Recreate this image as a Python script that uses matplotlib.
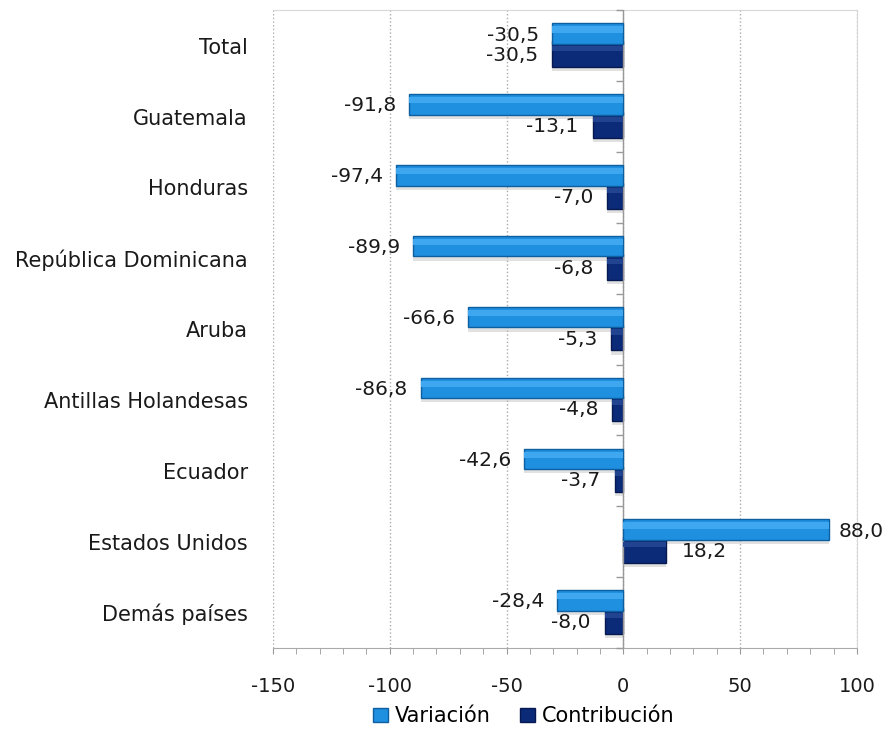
import matplotlib
matplotlib.use("Agg")
import matplotlib.pyplot as plt
import numpy as np
from matplotlib.ticker import MultipleLocator
from matplotlib.patches import Patch

categories = ["Total", "Guatemala", "Honduras", "República Dominicana", "Aruba",
              "Antillas Holandesas", "Ecuador", "Estados Unidos", "Demás países"]
variacion = [-30.5, -91.8, -97.4, -89.9, -66.6, -86.8, -42.6, 88.0, -28.4]
contribucion = [-30.5, -13.1, -7.0, -6.8, -5.3, -4.8, -3.7, 18.2, -8.0]
xticks = [-150, -100, -50, 0, 50, 100]

plt.rcParams['font.family'] = ['DejaVu Sans']

fig = plt.figure(figsize=(8.82, 7.33), dpi=100)
ax = fig.add_axes([0.3095, 0.116, 0.662, 0.870])

n = len(categories)
y = np.arange(n)
hv = 0.29
hc = 0.36
yv = y - 0.17
yc = y + 0.12

c_var = '#1F8FE0'
c_con = '#0B2A78'

# shadows
ax.barh(yv + 0.06, variacion, height=hv, color='#bdbdbd', alpha=0.45, zorder=2, linewidth=0)
ax.barh(yc + 0.06, contribucion, height=hc, color='#bdbdbd', alpha=0.45, zorder=2, linewidth=0)

ax.barh(yc, contribucion, height=hc, color=c_con, edgecolor='#061a50', linewidth=1.0, zorder=3)
ax.barh(yc - hc * 0.22, contribucion, height=hc * 0.2, color='#22438f', linewidth=0, zorder=3.5)
ax.barh(yv, variacion, height=hv, color=c_var, edgecolor='#0d5fa0', linewidth=1.0, zorder=4)
ax.barh(yv - hv * 0.2, variacion, height=hv * 0.3, color='#3fa6f0', linewidth=0, zorder=5)

fs = 14.5
def fmt(v):
    return f"{v:.1f}".replace('.', ',')

for i in range(n):
    v = variacion[i]
    c = contribucion[i]
    if v < 0:
        ax.text(v - 5.5, yv[i] + 0.02, fmt(v), ha='right', va='center',
                fontsize=fs, color='#1a1a1a', zorder=6)
    else:
        ax.text(v + 4, yv[i] + 0.02, fmt(v), ha='left', va='center',
                fontsize=fs, color='#1a1a1a', zorder=6)
    if c < 0:
        ax.text(c - 6, yc[i] + 0.02, fmt(c), ha='right', va='center',
                fontsize=fs, color='#1a1a1a', zorder=6)
    else:
        ax.text(c + 7, yc[i] + 0.02, fmt(c), ha='left', va='center',
                fontsize=fs, color='#1a1a1a', zorder=6)

ax.set_xlim(-150, 100)
ax.set_ylim(n - 0.5, -0.5)
ax.set_yticks(y)
ax.set_yticklabels(categories, fontsize=15, color='#1a1a1a')
ax.tick_params(axis='y', length=0, pad=18)
ax.set_xticks(xticks)
ax.set_xticklabels([str(t) for t in xticks], fontsize=14, color='#1a1a1a')
ax.xaxis.set_minor_locator(MultipleLocator(10))
ax.tick_params(axis='x', which='both', direction='out', length=4, color='#999999', pad=17)

ax.grid(axis='x', which='major', linestyle=':', color='#aaaaaa', linewidth=1, zorder=0)
ax.set_axisbelow(True)
ax.spines['left'].set_visible(False)
for s in ['top', 'right']:
    ax.spines[s].set_color('#d8d8d8')
ax.spines['bottom'].set_color('#aaaaaa')

# zero axis with category separator ticks
ax.axvline(0, color='#999999', linewidth=1, zorder=3.2)
bounds = np.arange(n + 1) - 0.5
ax.plot(np.zeros(n + 1), bounds, linestyle='none', marker=0, markersize=5,
        color='#999999', markeredgewidth=1, clip_on=False, zorder=3.2)

handles = [Patch(facecolor=c_var, edgecolor='#0d5fa0'), Patch(facecolor=c_con, edgecolor='#061a50')]
fig.legend(handles, ['Variación', 'Contribución'], loc='center', bbox_to_anchor=(0.594, 0.023),
           ncol=2, frameon=False, fontsize=15, handlelength=0.7, handleheight=0.7,
           handletextpad=0.35, columnspacing=1.4)

fig.savefig('out.png', dpi=100)
